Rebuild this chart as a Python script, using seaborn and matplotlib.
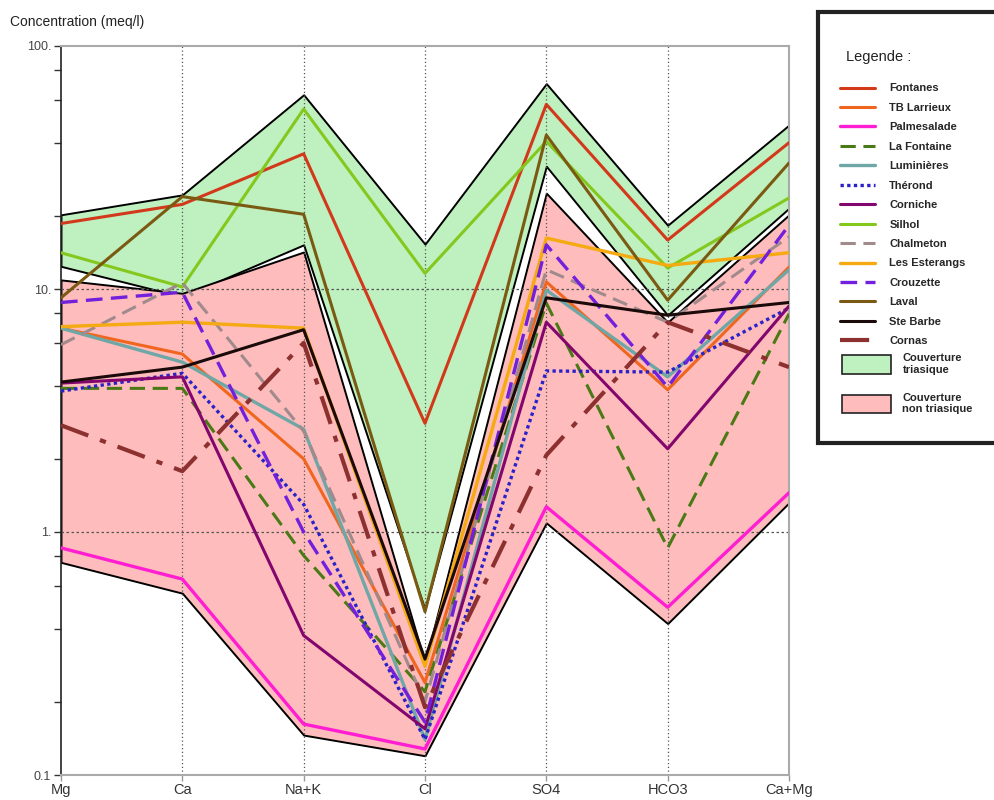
import numpy as np
import pandas as pd
import matplotlib
matplotlib.use('Agg')
import matplotlib.pyplot as plt
import seaborn as sns
from matplotlib.patches import Rectangle, Patch
from matplotlib.ticker import FixedLocator, NullFormatter

sns.set_theme(style="white")
plt.rcParams['font.family'] = ['Liberation Sans', 'DejaVu Sans']

# Ions on the x axis
IONS = ['Mg', 'Ca', 'Na+K', 'Cl', 'SO4', 'HCO3', 'Ca+Mg']

# Concentrations (meq/l), one list per spring
fontanes = [18.6, 22.3, 36.0, 2.8, 57.5, 15.9, 40.0]
tb_larrieux = [6.9, 5.4, 2.0, 0.24, 10.7, 3.85, 12.3]
palmesalade = [0.86, 0.64, 0.162, 0.128, 1.27, 0.49, 1.45]
la_fontaine = [3.9, 3.9, 0.8, 0.22, 8.75, 0.86, 7.9]
luminieres = [6.9, 5.0, 2.65, 0.14, 9.9, 4.35, 12.0]
therond = [3.8, 4.5, 1.3, 0.14, 4.6, 4.55, 8.35]
corniche = [4.1, 4.35, 0.375, 0.155, 7.3, 2.2, 8.5]
silhol = [14.1, 10.2, 55.0, 11.6, 40.5, 12.2, 23.7]
chalmeton = [5.9, 10.6, 2.6, 0.2, 12.0, 7.3, 16.4]
les_esterangs = [7.0, 7.3, 6.9, 0.28, 16.2, 12.5, 14.1]
crouzette = [8.8, 9.7, 1.0, 0.165, 15.2, 3.95, 18.3]
laval = [9.2, 24.0, 20.3, 0.47, 43.0, 9.0, 33.0]
ste_barbe = [4.14, 4.77, 6.8, 0.3, 9.2, 7.8, 8.8]
cornas = [2.75, 1.78, 6.0, 0.19, 2.07, 7.3, 4.77]

# Envelopes of the two cover types
tri_low = [12.4, 9.3, 15.2, 0.48, 32.0, 7.8, 21.5]
tri_high = [20.2, 24.4, 63.0, 15.3, 70.0, 18.3, 47.3]
non_low = [0.75, 0.56, 0.146, 0.12, 1.09, 0.42, 1.32]
non_high = [10.9, 9.6, 14.2, 0.29, 24.8, 7.3, 20.2]

SERIES = [
    ('Fontanes', fontanes, '#d2391a', '-', 2.2),
    ('TB Larrieux', tb_larrieux, '#f0661e', '-', 2.2),
    ('Palmesalade', palmesalade, '#ff1ed2', '-', 2.4),
    ('La Fontaine', la_fontaine, '#4a7a16', (0, (5, 2.5)), 2.2),
    ('Luminières', luminieres, '#6fa6a6', '-', 2.4),
    ('Thérond', therond, '#2a22c8', (0, (1, 1)), 2.4),
    ('Corniche', corniche, '#82066e', '-', 2.2),
    ('Silhol', silhol, '#84c81e', '-', 2.2),
    ('Chalmeton', chalmeton, '#a08a8c', (0, (5, 2.5)), 2.2),
    ('Les Esterangs', les_esterangs, '#f4aa10', '-', 2.4),
    ('Crouzette', crouzette, '#7220dc', (0, (5, 2.5)), 2.4),
    ('Laval', laval, '#7a5a12', '-', 2.2),
    ('Ste Barbe', ste_barbe, '#1a0a0a', '-', 2.2),
    ('Cornas', cornas, '#8c3030', (0, (7, 3, 1.5, 3)), 3.0),
]

x = np.arange(len(IONS))

fig = plt.figure(figsize=(9.94, 8.0), dpi=100)
ax = fig.add_axes([61 / 994, 25 / 800, (789 - 61) / 994, (775 - 46) / 800])

ax.fill_between(x, tri_low, tri_high, facecolor='#bff0bf', edgecolor='black',
                linewidth=1.4, zorder=1)
ax.fill_between(x, non_low, non_high, facecolor='#ffbcbc', edgecolor='black',
                linewidth=1.4, zorder=1.1)

for name, vals, color, ls, lw in SERIES:
    df = pd.DataFrame({'ion': x, 'value': vals})
    sns.lineplot(data=df, x='ion', y='value', ax=ax, color=color,
                 linestyle=ls, linewidth=lw, zorder=3)

ax.set_yscale('log')
ax.set_ylim(0.1, 100)
ax.set_xlim(0, len(IONS) - 1)
ax.set_xticks(x)
ax.set_xticklabels(IONS, fontsize=10.5, color='#333333')
ax.set_yticks([0.1, 1, 10, 100])
ax.set_yticklabels(['0.1', '1.', '10.', '100.'], fontsize=9, color='#444444')
minors = [m * 10.0 ** d for d in (-1, 0, 1) for m in (2, 4, 6, 8)]
ax.yaxis.set_minor_locator(FixedLocator(minors))
ax.yaxis.set_minor_formatter(NullFormatter())
ax.tick_params(axis='y', which='major', direction='out', length=5, width=1,
               color='#333333', left=True, pad=2)
ax.tick_params(axis='y', which='minor', direction='out', length=5, width=1,
               color='#333333', left=True)
ax.tick_params(axis='x', direction='out', length=4, width=1, color='#999999',
               bottom=True, pad=2)
ax.set_xlabel('')
ax.set_ylabel('')

# dotted grid on the ion positions and the decades
for xi in x[1:-1]:
    ax.axvline(xi, color='#555555', linestyle=(0, (1, 2)), linewidth=0.9, zorder=2)
for yv in (1, 10):
    ax.axhline(yv, color='#555555', linestyle=(0, (2, 2)), linewidth=0.9, zorder=2)

ax.spines['left'].set_color('#222222')
ax.spines['left'].set_linewidth(1.2)
for s in ('top', 'right', 'bottom'):
    ax.spines[s].set_color('#aaaaaa')
    ax.spines[s].set_linewidth(1.5)

fig.text(10 / 994, 1 - 22 / 800, 'Concentration (meq/l)', fontsize=10,
         color='#222222', va='center', ha='left')

# legend box
fig.patches.append(Rectangle((818 / 994, 1 - 443 / 800), 0.3, (443 - 12) / 800,
                             transform=fig.transFigure, facecolor='white',
                             edgecolor='#222222', linewidth=3, zorder=0))
fig.text(846 / 994, 1 - 57 / 800, 'Legende :', fontsize=10.5, color='#222222',
         va='center', ha='left')

handles = ax.get_lines()[:len(SERIES)]
labels = [s[0] for s in SERIES]
leg_font = {'family': ['Liberation Sans Narrow', 'Liberation Sans', 'DejaVu Sans'],
            'weight': 'bold', 'size': 8.0}
fig.legend(handles, labels, loc='upper left',
           bbox_to_anchor=(836 / 994, 1 - 79 / 800), frameon=False,
           prop=leg_font, handlelength=3.1, handletextpad=1.3,
           labelspacing=0.85, borderaxespad=0)

patches = [Patch(facecolor='#bff0bf', edgecolor='#222222', linewidth=1.2),
           Patch(facecolor='#ffbcbc', edgecolor='#222222', linewidth=1.2)]
fig.legend(patches, ['Couverture\ntriasique', 'Couverture\nnon triasique'],
           loc='upper left', bbox_to_anchor=(838 / 994, 1 - 349 / 800),
           frameon=False, prop=leg_font, handlelength=4.4, handleheight=2.2,
           handletextpad=1.0, labelspacing=1.6, borderaxespad=0)

fig.savefig('out.png', dpi=100)
